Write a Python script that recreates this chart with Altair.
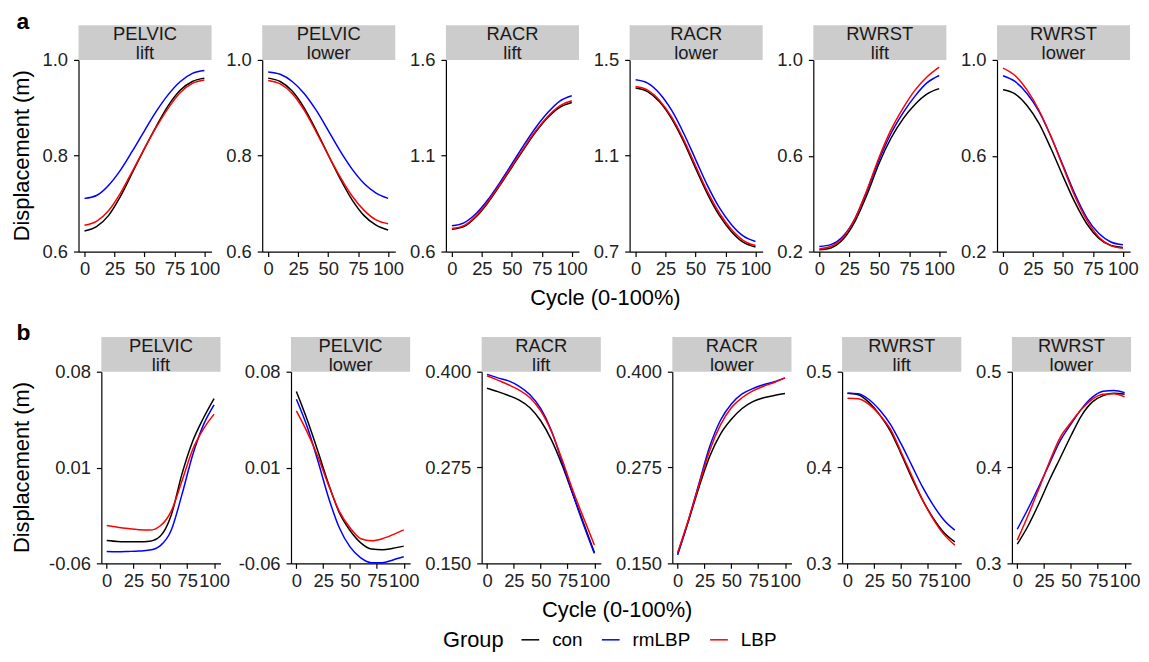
import altair as alt
import pandas as pd

cycle = [0, 10, 20, 30, 40, 50, 60, 70, 80, 90, 100]
groups = ["con", "rmLBP", "LBP"]
colors = ["#000000", "#0000ff", "#ff0000"]
segments = ["PELVIC", "PELVIC", "RACR", "RACR", "RWRST", "RWRST"]
phases = ["lift", "lower", "lift", "lower", "lift", "lower"]
x_ticks = [0, 25, 50, 75, 100]
y_title = "Displacement (m)"
x_title = "Cycle (0-100%)"

# ---- panel a : displacement ----
a1_con = [0.643, 0.652, 0.675, 0.715, 0.765, 0.815, 0.862, 0.905, 0.937, 0.955, 0.962]
a1_rmLBP = [0.711, 0.717, 0.738, 0.770, 0.810, 0.852, 0.893, 0.928, 0.955, 0.972, 0.978]
a1_LBP = [0.655, 0.663, 0.685, 0.722, 0.768, 0.815, 0.860, 0.900, 0.932, 0.951, 0.958]

a2_con = [0.962, 0.955, 0.935, 0.900, 0.853, 0.802, 0.752, 0.708, 0.675, 0.655, 0.645]
a2_rmLBP = [0.975, 0.970, 0.955, 0.930, 0.895, 0.853, 0.810, 0.772, 0.742, 0.722, 0.711]
a2_LBP = [0.957, 0.950, 0.930, 0.895, 0.850, 0.802, 0.756, 0.716, 0.686, 0.666, 0.658]

a3_con = [0.716, 0.730, 0.780, 0.855, 0.945, 1.040, 1.135, 1.225, 1.300, 1.353, 1.378]
a3_rmLBP = [0.735, 0.750, 0.797, 0.870, 0.960, 1.057, 1.155, 1.247, 1.325, 1.385, 1.413]
a3_LBP = [0.720, 0.735, 0.785, 0.860, 0.950, 1.045, 1.140, 1.230, 1.305, 1.360, 1.387]

a4_con = [1.383, 1.368, 1.325, 1.255, 1.160, 1.048, 0.940, 0.850, 0.783, 0.738, 0.719]
a4_rmLBP = [1.417, 1.403, 1.360, 1.290, 1.195, 1.085, 0.975, 0.882, 0.812, 0.764, 0.742]
a4_LBP = [1.389, 1.374, 1.331, 1.262, 1.168, 1.058, 0.950, 0.860, 0.792, 0.746, 0.725]

a5_con = [0.207, 0.216, 0.252, 0.328, 0.440, 0.570, 0.675, 0.755, 0.815, 0.858, 0.880]
a5_rmLBP = [0.221, 0.230, 0.265, 0.340, 0.455, 0.585, 0.695, 0.780, 0.850, 0.905, 0.935]
a5_LBP = [0.211, 0.222, 0.260, 0.340, 0.460, 0.595, 0.710, 0.800, 0.875, 0.930, 0.970]

a6_con = [0.875, 0.858, 0.810, 0.735, 0.630, 0.515, 0.405, 0.315, 0.255, 0.225, 0.217]
a6_rmLBP = [0.934, 0.910, 0.860, 0.785, 0.680, 0.560, 0.440, 0.340, 0.275, 0.240, 0.228]
a6_LBP = [0.966, 0.935, 0.875, 0.790, 0.680, 0.555, 0.430, 0.330, 0.260, 0.225, 0.214]

a_ticks = [[0.6, 0.8, 1.0], [0.6, 0.8, 1.0], [0.6, 1.1, 1.6],
           [0.7, 1.1, 1.5], [0.2, 0.6, 1.0], [0.2, 0.6, 1.0]]
a_formats = [".1f", ".1f", ".1f", ".1f", ".1f", ".1f"]

# ---- panel b ----
b1_con = [-0.0433, -0.0440, -0.0442, -0.0443, -0.0438, -0.0400, -0.0250, 0.0050, 0.0290, 0.0460, 0.0604]
b1_rmLBP = [-0.0513, -0.0515, -0.0513, -0.0510, -0.0503, -0.0470, -0.0360, -0.0100, 0.0190, 0.0410, 0.0558]
b1_LBP = [-0.0324, -0.0336, -0.0346, -0.0354, -0.0357, -0.0325, -0.0220, 0.0000, 0.0230, 0.0380, 0.0490]

b2_con = [0.0655, 0.0450, 0.0220, -0.0020, -0.0230, -0.0360, -0.0450, -0.0495, -0.0500, -0.0490, -0.0474]
b2_rmLBP = [0.0599, 0.0400, 0.0150, -0.0120, -0.0340, -0.0480, -0.0560, -0.0595, -0.0595, -0.0575, -0.0552]
b2_LBP = [0.0514, 0.0360, 0.0180, -0.0030, -0.0220, -0.0340, -0.0420, -0.0435, -0.0420, -0.0390, -0.0355]

b3_con = [0.3784, 0.3740, 0.3690, 0.3630, 0.3530, 0.3360, 0.3110, 0.2780, 0.2400, 0.2020, 0.1640]
b3_rmLBP = [0.3965, 0.3920, 0.3880, 0.3810, 0.3700, 0.3520, 0.3230, 0.2820, 0.2400, 0.2000, 0.1630]
b3_LBP = [0.3948, 0.3890, 0.3830, 0.3760, 0.3660, 0.3490, 0.3220, 0.2850, 0.2450, 0.2090, 0.1740]

b4_con = [0.163, 0.205, 0.250, 0.290, 0.319, 0.338, 0.352, 0.361, 0.366, 0.369, 0.3715]
b4_rmLBP = [0.161, 0.206, 0.255, 0.303, 0.337, 0.358, 0.371, 0.378, 0.383, 0.387, 0.392]
b4_LBP = [0.164, 0.207, 0.253, 0.298, 0.331, 0.353, 0.366, 0.375, 0.381, 0.386, 0.392]

b5_con = [0.4775, 0.4760, 0.4680, 0.4550, 0.4380, 0.4142, 0.3890, 0.3660, 0.3470, 0.3320, 0.3225]
b5_rmLBP = [0.4775, 0.4770, 0.4710, 0.4600, 0.4450, 0.4246, 0.4020, 0.3795, 0.3605, 0.3450, 0.3346]
b5_LBP = [0.4723, 0.4718, 0.4660, 0.4550, 0.4400, 0.4160, 0.3910, 0.3660, 0.3460, 0.3300, 0.3190]

b6_con = [0.3200, 0.3390, 0.3620, 0.3870, 0.4100, 0.4332, 0.4545, 0.4685, 0.4750, 0.4775, 0.4765]
b6_rmLBP = [0.3356, 0.3570, 0.3800, 0.4040, 0.4280, 0.4453, 0.4615, 0.4735, 0.4795, 0.4805, 0.4782]
b6_LBP = [0.3242, 0.3500, 0.3775, 0.4060, 0.4315, 0.4470, 0.4610, 0.4715, 0.4765, 0.4770, 0.4737]

b_ticks = [[-0.06, 0.01, 0.08], [-0.06, 0.01, 0.08], [0.15, 0.275, 0.4],
           [0.15, 0.275, 0.4], [0.3, 0.4, 0.5], [0.3, 0.4, 0.5]]
b_formats = [".2f", ".2f", ".3f", ".3f", ".1f", ".1f"]

a_series = [(a1_con, a1_rmLBP, a1_LBP), (a2_con, a2_rmLBP, a2_LBP), (a3_con, a3_rmLBP, a3_LBP),
            (a4_con, a4_rmLBP, a4_LBP), (a5_con, a5_rmLBP, a5_LBP), (a6_con, a6_rmLBP, a6_LBP)]
b_series = [(b1_con, b1_rmLBP, b1_LBP), (b2_con, b2_rmLBP, b2_LBP), (b3_con, b3_rmLBP, b3_LBP),
            (b4_con, b4_rmLBP, b4_LBP), (b5_con, b5_rmLBP, b5_LBP), (b6_con, b6_rmLBP, b6_LBP)]

FONT = "Liberation Sans"
H = 193
STRIP = 35
SP = 3


def make_panel(idx, series, ticks, fmt, W, extent):
    recs = []
    for g, vals in zip(groups, series):
        for c, v in zip(cycle, vals):
            recs.append({"cycle": c, "value": v, "group": g})
    df = pd.DataFrame(recs)

    lines = alt.Chart(df).mark_line(strokeWidth=1.5, interpolate="monotone").encode(
        x=alt.X("cycle:Q",
                scale=alt.Scale(domain=[-5, 106], nice=False, zero=False),
                axis=alt.Axis(values=x_ticks, title=None, tickSize=5, labelPadding=3,
                              labelFlush=False, labelOverlap=False)),
        y=alt.Y("value:Q",
                scale=alt.Scale(domain=[ticks[0], ticks[-1]], nice=False, zero=False),
                axis=alt.Axis(values=ticks, title=None,
                              labelExpr="replace(format(datum.value, '%s'), '\u2212', '-')" % fmt,
                              minExtent=extent, maxExtent=extent,
                              tickSize=5, labelPadding=6)),
        color=alt.Color("group:N", sort=groups,
                        scale=alt.Scale(domain=groups, range=colors),
                        legend=alt.Legend(title="Group")),
        detail="group:N",
    )

    hdr = pd.DataFrame({"label": [segments[idx] + "\n" + phases[idx]]})
    strip = alt.Chart(hdr).mark_rect(color="#cccccc").encode(
        x=alt.value(0), x2=alt.value(W), y=alt.value(-STRIP), y2=alt.value(0))
    strip_text = alt.Chart(hdr).mark_text(
        lineBreak="\n", fontSize=18.5, lineHeight=19, baseline="alphabetic",
        align="center", color="#1a1a1a", font=FONT,
    ).encode(x=alt.value(W / 2), y=alt.value(-20), text="label:N")

    return alt.layer(strip, strip_text, lines).properties(width=W, height=H)


def make_lead(tag, width, tag_dy):
    """Narrow left column carrying the panel tag and the shared y-axis title."""
    d = pd.DataFrame({"tag": [tag], "ytitle": [y_title]})
    title_txt = alt.Chart(d).mark_text(
        angle=270, fontSize=22, align="center", baseline="middle",
        color="#000000", font=FONT,
    ).encode(x=alt.value(-11), y=alt.value(H / 2), text="ytitle:N")
    tag_txt = alt.Chart(d).mark_text(
        fontSize=23, fontWeight="bold", align="left", baseline="alphabetic",
        color="#000000", font=FONT,
    ).encode(x=alt.value(-16.4), y=alt.value(tag_dy), text="tag:N")
    return alt.layer(title_txt, tag_txt).properties(width=width, height=H)


row_a_panels = [make_lead("a", 3, -31)] + [
    make_panel(i, a_series[i], a_ticks[i], a_formats[i], 134, 38) for i in range(6)
]
b_extents = [56, 57, 58, 58, 37, 37]
row_b_panels = [make_lead("b", 8, -32)] + [
    make_panel(i, b_series[i], b_ticks[i], b_formats[i], 120, b_extents[i]) for i in range(6)
]

row_a = alt.hconcat(*row_a_panels, spacing=SP, title=alt.TitleParams(
    x_title, orient="bottom", anchor="middle", fontSize=22,
    fontWeight="normal", font=FONT, color="#000000", dx=31, offset=10))
row_b = alt.hconcat(*row_b_panels, spacing=SP, title=alt.TitleParams(
    x_title, orient="bottom", anchor="middle", fontSize=22,
    fontWeight="normal", font=FONT, color="#000000", dx=42, offset=10))

chart = alt.vconcat(row_a, row_b, spacing=12).properties(
    padding={"left": 2, "top": 0, "right": 0, "bottom": 0}
).configure(font=FONT).configure_view(stroke="transparent").configure_axis(
    grid=False, domainColor="#000000", tickColor="#000000", domainWidth=1.2,
    tickWidth=1.2, labelFontSize=18.5, labelColor="#222222", labelFont=FONT,
).configure_legend(
    orient="none", legendX=413, legendY=574, direction="horizontal",
    titleOrient="left", titleFontSize=22, titleFontWeight="normal", titleColor="#000000",
    labelFontSize=19, labelColor="#000000", symbolType="stroke", symbolStrokeWidth=1.5,
    symbolSize=320, labelOffset=12, columnPadding=16, titlePadding=16,
    titleFont=FONT, labelFont=FONT,
)

chart.save("out.html", embed_options={"renderer": "svg", "actions": False})
